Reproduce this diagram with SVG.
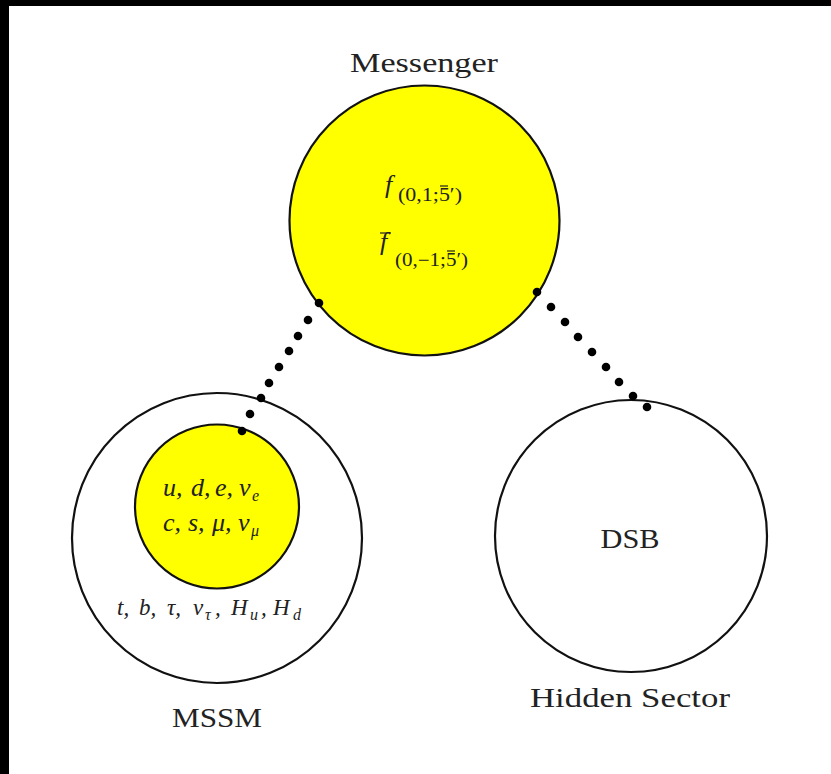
<svg xmlns="http://www.w3.org/2000/svg" width="831" height="774" viewBox="0 0 831 774">
<style>
.ring{stroke:#111;stroke-width:2.2}
.yel{fill:#ffff00}
.wht{fill:#ffffff}
.lbl{font-family:"Liberation Serif","DejaVu Serif",serif;font-size:27px;fill:#222}
.math{font-family:"Liberation Serif","DejaVu Serif",serif;font-style:italic;font-size:26px;fill:#222}
.m2{font-family:"Liberation Serif","DejaVu Serif",serif;font-style:italic;font-size:23px;fill:#222}
.sub{font-family:"Liberation Serif","DejaVu Serif",serif;font-style:italic;font-size:16px;fill:#222}
.rsub{font-family:"Liberation Serif","DejaVu Serif",serif;font-size:18px;fill:#222}
.bar{stroke:#222;stroke-width:1.2}
.dot{fill:#000}
</style>
<rect x="0" y="0" width="831" height="774" fill="#ffffff"/>
<rect x="0" y="0" width="831" height="6" fill="#000"/>
<rect x="0" y="0" width="9" height="774" fill="#000"/>
<g id="messenger">
<text class="lbl" x="424" y="72" text-anchor="middle" textLength="148" lengthAdjust="spacingAndGlyphs">Messenger</text>
<circle class="ring yel" cx="424.5" cy="220.5" r="135"/>
<text class="math" x="385" y="193">f</text>
<text class="rsub" x="398" y="201" textLength="64" lengthAdjust="spacingAndGlyphs">(0,1;5′)</text>
<line class="bar" x1="440" y1="186" x2="448" y2="186"/>
<text class="math" x="380" y="250">f</text>
<line class="bar" x1="380" y1="233" x2="391" y2="233"/>
<text class="rsub" x="395" y="266" textLength="73" lengthAdjust="spacingAndGlyphs">(0,−1;5′)</text>
<line class="bar" x1="447" y1="251" x2="455" y2="251"/>
</g>
<g id="mssm">
<circle class="ring wht" cx="217" cy="538" r="145"/>
<circle class="ring yel" cx="217" cy="506.5" r="82"/>
<text class="math" y="496"><tspan x="163">u,</tspan><tspan x="191">d,</tspan><tspan x="215">e,</tspan><tspan x="239">ν</tspan></text>
<text class="sub" x="252" y="501">e</text>
<text class="math" y="531"><tspan x="163">c,</tspan><tspan x="188">s,</tspan><tspan x="212">μ,</tspan><tspan x="238">ν</tspan></text>
<text class="sub" x="251" y="536">μ</text>
<text class="m2" y="615"><tspan x="117">t,</tspan><tspan x="139">b,</tspan><tspan x="167">τ,</tspan><tspan x="193">ν</tspan></text>
<text class="sub" x="205" y="620">τ</text>
<text class="m2" x="215" y="615">,</text>
<text class="m2" x="231" y="615">H</text>
<text class="sub" x="250" y="620">u</text>
<text class="m2" x="261" y="615">,</text>
<text class="m2" x="273" y="615">H</text>
<text class="sub" x="293" y="620">d</text>
<text class="lbl" x="217" y="727" text-anchor="middle" textLength="90" lengthAdjust="spacingAndGlyphs">MSSM</text>
</g>
<g id="hidden">
<circle class="ring wht" cx="631" cy="536" r="136"/>
<text class="lbl" x="630" y="548" text-anchor="middle" textLength="59" lengthAdjust="spacingAndGlyphs">DSB</text>
<text class="lbl" x="630" y="707" text-anchor="middle" textLength="200" lengthAdjust="spacingAndGlyphs">Hidden Sector</text>
</g>
<g id="connectors">
<circle class="dot" cx="319" cy="303" r="4.3"/>
<circle class="dot" cx="308" cy="320" r="4.3"/>
<circle class="dot" cx="298" cy="336" r="4.3"/>
<circle class="dot" cx="289" cy="351" r="4.3"/>
<circle class="dot" cx="279" cy="367" r="4.3"/>
<circle class="dot" cx="269" cy="383" r="4.3"/>
<circle class="dot" cx="261" cy="398" r="4.3"/>
<circle class="dot" cx="250" cy="414" r="4.3"/>
<circle class="dot" cx="242" cy="431" r="4.3"/>
<circle class="dot" cx="537" cy="292" r="4.3"/>
<circle class="dot" cx="551" cy="307" r="4.3"/>
<circle class="dot" cx="565" cy="322" r="4.3"/>
<circle class="dot" cx="578" cy="337" r="4.3"/>
<circle class="dot" cx="592" cy="352" r="4.3"/>
<circle class="dot" cx="606" cy="367" r="4.3"/>
<circle class="dot" cx="619" cy="382" r="4.3"/>
<circle class="dot" cx="633" cy="396" r="4.3"/>
<circle class="dot" cx="647" cy="407" r="4.3"/>
</g>
</svg>
